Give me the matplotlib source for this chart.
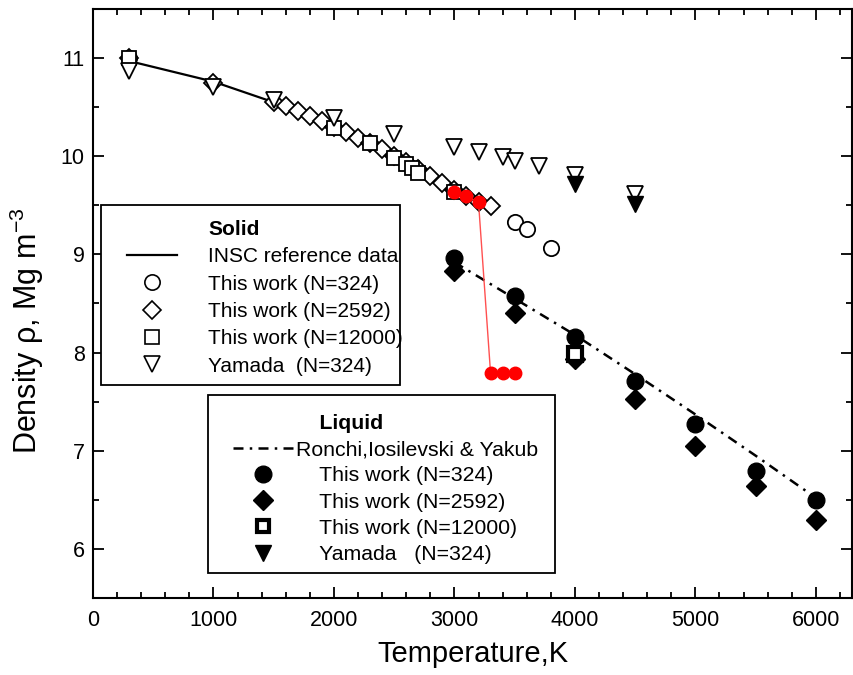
import numpy as np
import matplotlib
matplotlib.use('Agg')
from matplotlib import pyplot as plt
from matplotlib.lines import Line2D
from matplotlib.patches import Rectangle

plt.rcParams['font.family'] = ['Liberation Sans', 'DejaVu Sans']
plt.rcParams['mathtext.fontset'] = 'custom'
plt.rcParams['mathtext.rm'] = 'Liberation Sans'
plt.rcParams['mathtext.it'] = 'Liberation Sans:italic'

W, H = 854, 675

# --- solid phase ---
insc_T = [300, 1000, 1500, 2000, 2500, 3000, 3300]
insc_rho = [10.97, 10.76, 10.55, 10.31, 10.02, 9.68, 9.47]

s324_T = [300, 3500, 3600, 3800]
s324_rho = [11.0, 9.33, 9.26, 9.07]

s2592_T = [300, 1000, 1500, 1600, 1700, 1800, 1900, 2000, 2100, 2200, 2300,
           2400, 2500, 2600, 2700, 2800, 2900, 3000, 3100, 3200, 3300]
s2592_rho = [11.0, 10.75, 10.55, 10.51, 10.46, 10.41, 10.36, 10.30, 10.25, 10.19, 10.13,
             10.07, 10.00, 9.94, 9.87, 9.80, 9.73, 9.66, 9.59, 9.53, 9.49]

s12000_T = [300, 2000, 2300, 2500, 2600, 2650, 2700, 3000]
s12000_rho = [11.0, 10.29, 10.13, 9.98, 9.92, 9.88, 9.83, 9.64]

sy_T = [300, 1000, 1500, 2000, 2500, 3000, 3200, 3400, 3500, 3700, 4000, 4500]
sy_rho = [10.87, 10.71, 10.57, 10.39, 10.23, 10.09, 10.04, 9.99, 9.95, 9.90, 9.81, 9.62]

# melting run (red)
red_T = [3000, 3100, 3200, 3300, 3400, 3500]
red_rho = [9.64, 9.59, 9.53, 7.79, 7.79, 7.79]

# --- liquid phase ---
ronchi_T = [3000, 3500, 4000, 4500, 5000, 5500, 6000]
ronchi_rho = [8.92, 8.55, 8.18, 7.78, 7.37, 6.95, 6.52]

l324_T = [3000, 3500, 4000, 4500, 5000, 5500, 6000]
l324_rho = [8.96, 8.58, 8.16, 7.71, 7.27, 6.79, 6.50]

l2592_T = [3000, 3500, 4000, 4500, 5000, 5500, 6000]
l2592_rho = [8.83, 8.40, 7.93, 7.53, 7.05, 6.64, 6.29]

l12000_T = [4000]
l12000_rho = [7.99]

ly_T = [4000, 4500]
ly_rho = [9.72, 9.51]

dashdot = (0, (4, 2.5, 1, 2.5))

fig = plt.figure(figsize=(8.54, 6.75), dpi=100)
ax = fig.add_axes([93 / W, 77 / H, 759 / W, 589 / H])

ax.plot(insc_T, insc_rho, '-', color='black', lw=1.6, zorder=2)
ax.plot(s324_T, s324_rho, 'o', ls='none', mfc='white', mec='black', ms=11, mew=1.3, zorder=3)
ax.plot(s2592_T, s2592_rho, 'D', ls='none', mfc='white', mec='black', ms=9.5, mew=1.3, zorder=3)
ax.plot(s12000_T, s12000_rho, 's', ls='none', mfc='white', mec='black', ms=10.5, mew=1.3, zorder=3)
ax.plot(sy_T, sy_rho, 'v', ls='none', mfc='white', mec='black', ms=12, mew=1.3, zorder=3)

ax.plot(red_T, red_rho, '-', color='#ff5050', lw=1.0, zorder=5)
ax.plot(red_T, red_rho, 'o', ls='none', color='red', ms=9, zorder=5)

ax.plot(ronchi_T, ronchi_rho, color='black', lw=1.8, ls=dashdot, zorder=2)
ax.plot(l324_T, l324_rho, 'o', ls='none', color='black', ms=12, zorder=4)
ax.plot(l2592_T, l2592_rho, 'D', ls='none', color='black', ms=10.5, zorder=4)
ax.plot(l12000_T, l12000_rho, 's', ls='none', mfc='white', mec='black', ms=10, mew=3, zorder=4)
ax.plot(ly_T, ly_rho, 'v', ls='none', color='black', ms=12, zorder=4)

ax.set_xlim(0, 6300)
ax.set_ylim(5.5, 11.5)
ax.set_xticks(np.arange(0, 6001, 1000))
ax.set_xticks(np.arange(0, 6301, 200), minor=True)
ax.set_yticks(np.arange(6, 11.1, 1))
ax.set_yticks(np.arange(5.5, 11.6, 0.5), minor=True)
ax.tick_params(which='both', direction='in', top=True, right=True, width=1.3)
ax.tick_params(which='major', length=8, labelsize=15.5)
ax.tick_params(which='minor', length=4)
ax.tick_params(axis='x', pad=9)
ax.tick_params(axis='y', pad=6)
for sp in ax.spines.values():
    sp.set_linewidth(1.5)

ax.set_xlabel('Temperature,K', fontsize=21, labelpad=6)
ax.set_ylabel('Density ρ, Mg m$^{-3}$', fontsize=22)
ax.yaxis.set_label_coords(-0.062, 0.453)

# legend boxes
for (x0, y0, x1, y1) in [(101, 205, 400, 385), (208, 395, 555, 573)]:
    fig.add_artist(Rectangle((x0 / W, 1 - y1 / H), (x1 - x0) / W, (y1 - y0) / H,
                             transform=fig.transFigure, facecolor='white',
                             edgecolor='black', lw=1.3, zorder=4))

blank = Line2D([], [], ls='none')
solid_handles = [
    blank,
    Line2D([], [], color='black', lw=1.6),
    Line2D([], [], marker='o', ls='none', mfc='white', mec='black', ms=11, mew=1.2),
    Line2D([], [], marker='D', ls='none', mfc='white', mec='black', ms=9.5, mew=1.2),
    Line2D([], [], marker='s', ls='none', mfc='white', mec='black', ms=10, mew=1.2),
    Line2D([], [], marker='v', ls='none', mfc='white', mec='black', ms=12, mew=1.2),
]
solid_labels = ['Solid', 'INSC reference data', 'This work (N=324)', 'This work (N=2592)',
                'This work (N=12000)', 'Yamada  (N=324)']
leg1 = fig.legend(solid_handles, solid_labels, loc='upper left',
                  bbox_to_anchor=(127 / W, 1 - 220 / H), fontsize=15,
                  frameon=False, handlelength=2.4, handletextpad=1.5,
                  labelspacing=0.40, borderpad=0, borderaxespad=0)
leg1.set_zorder(6)
leg1.get_texts()[0].set_fontweight('bold')

liquid_handles = [
    blank,
    Line2D([], [], color='black', lw=1.8, ls=dashdot),
    Line2D([], [], marker='o', ls='none', color='black', ms=12),
    Line2D([], [], marker='D', ls='none', color='black', ms=10.5),
    Line2D([], [], marker='s', ls='none', mfc='white', mec='black', ms=9, mew=3),
    Line2D([], [], marker='v', ls='none', color='black', ms=12),
]
liquid_labels = ['    Liquid', 'Ronchi,Iosilevski & Yakub', '    This work (N=324)',
                 '    This work (N=2592)', '    This work (N=12000)', '    Yamada   (N=324)']
leg2 = fig.legend(liquid_handles, liquid_labels, loc='upper left',
                  bbox_to_anchor=(233 / W, 1 - 414 / H), fontsize=15.3,
                  frameon=False, handlelength=2.85, handletextpad=0.1,
                  labelspacing=0.34, borderpad=0, borderaxespad=0)
leg2.set_zorder(6)
leg2.get_texts()[0].set_fontweight('bold')

fig.savefig('out.png', dpi=100)
